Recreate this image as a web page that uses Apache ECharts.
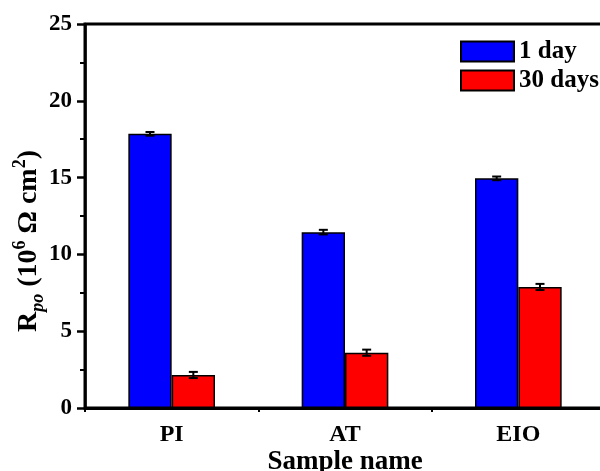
<!DOCTYPE html>
<html>
<head>
<meta charset="utf-8">
<script src="https://cdn.jsdelivr.net/npm/echarts@6/dist/echarts.min.js"></script>
<style>
  html, body { margin: 0; padding: 0; background: #fff; }
  #chart { width: 600px; height: 471px; }
</style>
</head>
<body>
<div id="chart"></div>
<script>
// Pore resistance of each coating sample after 1 day and 30 days of immersion
const categories = ['PI', 'AT', 'EIO'];
const seriesNames = ['1 day', '30 days'];
const day1Values = [17.85, 11.45, 14.95];
const day1Errors = [0.12, 0.15, 0.12];
const day30Values = [2.15, 3.6, 7.88];
const day30Errors = [0.2, 0.2, 0.2];
const yTicks = { min: 0, max: 25, interval: 5 };

const FONT = '"Liberation Serif", "Times New Roman", serif';

// Error bars drawn over each bar; side = -1 for the left bar, +1 for the right bar
function errorBarSeries(values, errors, side) {
  return {
    type: 'custom',
    z: 10,
    silent: true,
    data: values.map((v, i) => [i, v, errors[i]]),
    encode: { x: 0, y: 1 },
    renderItem: function (params, api) {
      const idx = api.value(0);
      const val = api.value(1);
      const err = api.value(2);
      const band = api.size([1, 0])[0];
      const hi = api.coord([idx, val + err]);
      const lo = api.coord([idx, val - err]);
      const x = hi[0] + side * band * 0.125;
      const cap = 4.5;
      const style = { stroke: '#000', lineWidth: 2 };
      return {
        type: 'group',
        children: [
          { type: 'line', shape: { x1: x, y1: hi[1], x2: x, y2: lo[1] }, style: style },
          { type: 'line', shape: { x1: x - cap, y1: hi[1], x2: x + cap, y2: hi[1] }, style: style },
          { type: 'line', shape: { x1: x - cap, y1: lo[1], x2: x + cap, y2: lo[1] }, style: style }
        ]
      };
    }
  };
}

const chart = echarts.init(document.getElementById('chart'), null, { renderer: 'canvas' });

chart.setOption({
  backgroundColor: '#ffffff',
  animation: false,
  textStyle: { fontFamily: FONT },
  grid: {
    left: 85, top: 24, width: 520, height: 384,
    containLabel: false,
    outerBoundsMode: 'none',
    show: true, borderColor: '#000', borderWidth: 3, backgroundColor: 'transparent'
  },
  legend: {
    data: seriesNames,
    orient: 'vertical',
    left: 460,
    top: 39,
    padding: 0,
    itemWidth: 53,
    itemHeight: 20,
    itemGap: 4,
    icon: 'rect',
    textStyle: { fontFamily: FONT, fontWeight: 'bold', fontSize: 25, color: '#000', lineHeight: 24 }
  },
  xAxis: [
    {
      type: 'category',
      data: categories,
      boundaryGap: true,
      axisLine: { lineStyle: { color: '#000', width: 3 } },
      axisTick: { alignWithLabel: true, length: 8, lineStyle: { color: '#000', width: 2.5 } },
      axisLabel: { fontFamily: FONT, fontWeight: 'bold', fontSize: 24, color: '#000', margin: 15 },
      name: 'Sample name',
      nameLocation: 'middle',
      nameGap: 41,
      nameMoveOverlap: false,
      nameTextStyle: { fontFamily: FONT, fontWeight: 'bold', fontSize: 27, color: '#000' },
      splitLine: { show: false }
    },
    {
      // short ticks on the boundaries between sample groups
      type: 'category',
      data: categories,
      position: 'bottom',
      boundaryGap: true,
      axisLine: { show: false },
      axisTick: { show: true, length: 4, lineStyle: { color: '#000', width: 2 } },
      axisLabel: { show: false },
      splitLine: { show: false }
    }
  ],
  yAxis: {
    type: 'value',
    min: yTicks.min,
    max: yTicks.max,
    interval: yTicks.interval,
    axisLine: { show: true, lineStyle: { color: '#000', width: 2.5 } },
    axisTick: { show: true, length: 8, lineStyle: { color: '#000', width: 2.5 } },
    minorTick: { show: true, splitNumber: 2, length: 5, lineStyle: { color: '#000', width: 2 } },
    splitLine: { show: false },
    axisLabel: { fontFamily: FONT, fontWeight: 'bold', fontSize: 23, color: '#000', margin: 13 },
    name: '{m|R}{sub|po}{m| (10}{sup|6}{m| Ω cm}{sup|2}{m|)}',
    nameLocation: 'middle',
    nameGap: 38,
    nameMoveOverlap: false,
    nameTextStyle: {
      color: '#000',
      padding: [0, 0, 0, -50],
      rich: {
        m: { fontFamily: FONT, fontWeight: 'bold', fontSize: 28, lineHeight: 36, color: '#000' },
        sub: { fontFamily: FONT, fontWeight: 'bold', fontStyle: 'italic', fontSize: 18, lineHeight: 18, verticalAlign: 'bottom', color: '#000' },
        sup: { fontFamily: FONT, fontWeight: 'bold', fontSize: 18, lineHeight: 18, verticalAlign: 'top', color: '#000' }
      }
    }
  },
  series: [
    {
      name: seriesNames[0],
      type: 'bar',
      data: day1Values,
      barGap: '0%',
      barCategoryGap: '50%',
      itemStyle: { color: '#0000ff', borderColor: '#000', borderWidth: 1.5 }
    },
    {
      name: seriesNames[1],
      type: 'bar',
      data: day30Values,
      barGap: '0%',
      barCategoryGap: '50%',
      itemStyle: { color: '#ff0000', borderColor: '#000', borderWidth: 1.5 }
    },
    errorBarSeries(day1Values, day1Errors, -1),
    errorBarSeries(day30Values, day30Errors, 1)
  ]
});
</script>
</body>
</html>
